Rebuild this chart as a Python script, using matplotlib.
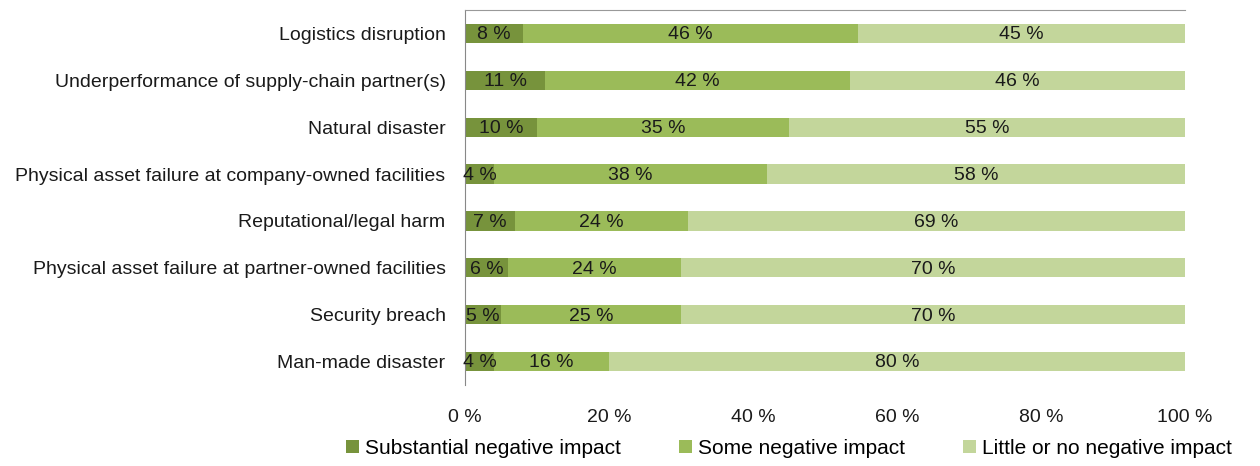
# 100 % stacked horizontal bar chart: impact of supply-chain disruptions
import matplotlib.pyplot as plt
import numpy as np

plt.rcParams['font.family'] = ['Liberation Sans', 'DejaVu Sans']

categories = ['Logistics disruption',
              'Underperformance of supply-chain partner(s)',
              'Natural disaster',
              'Physical asset failure at company-owned facilities',
              'Reputational/legal harm',
              'Physical asset failure at partner-owned facilities',
              'Security breach',
              'Man-made disaster']
substantial = [8, 11, 10, 4, 7, 6, 5, 4]
some = [46, 42, 35, 38, 24, 24, 25, 16]
little = [45, 46, 55, 58, 69, 70, 70, 80]
series_names = ['Substantial negative impact', 'Some negative impact',
                'Little or no negative impact']
colors = ['#77933C', '#9BBB59', '#C3D69B']
xticks = [0, 20, 40, 60, 80, 100]

fig = plt.figure(figsize=(12.6, 4.66), dpi=100)
ax = fig.add_axes([465 / 1260, 1 - 385 / 466, 720 / 1260, 375 / 466])

data = np.array([substantial, some, little], dtype=float)
# like Excel's 100 % stacked bar, every bar is scaled to fill the full width
shares = data / data.sum(axis=0) * 100

y = np.arange(len(categories))
left = np.zeros(len(categories))
for vals, raw, name, col in zip(shares, data, series_names, colors):
    ax.barh(y, vals, left=left, height=0.41, color=col, label=name)
    for yi, l, v, r in zip(y, left, vals, raw):
        ax.text(l + v / 2, yi + 0.03, f'{int(r)} %', ha='center', va='center',
                fontsize=14, color='#1a1a1a')
    left += vals

ax.set_xlim(0, 100)
ax.set_ylim(len(categories) - 0.5, -0.5)
ax.set_yticks(y)
ax.set_yticklabels(categories, fontsize=14, color='#1a1a1a')
ax.set_xticks(xticks)
ax.set_xticklabels([f'{t} %' for t in xticks], fontsize=14, color='#1a1a1a')
ax.tick_params(axis='y', length=0, pad=14)
ax.tick_params(axis='x', length=0, pad=17)

for s in ['right', 'bottom']:
    ax.spines[s].set_visible(False)
ax.spines['left'].set_color('#888888')
ax.spines['top'].set_color('#999999')

fig.legend(loc='center', bbox_to_anchor=(789 / 1260, 1 - 448 / 466), ncol=3,
           frameon=False, fontsize=15, handlelength=0.6, handleheight=0.6,
           handletextpad=0.3, columnspacing=2.8)

plt.savefig('out.png', dpi=100)
